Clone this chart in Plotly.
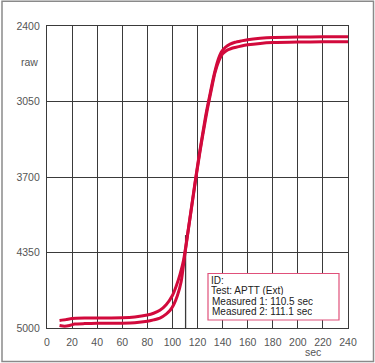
import plotly.graph_objects as go

# ---- data ----
x_run1 = [10, 15, 20, 30, 40, 50, 60, 70, 80, 85, 90, 95, 100, 103, 106, 109, 112, 115, 118, 121,
          124, 127, 130, 133, 136, 139, 142, 146, 150, 155, 160, 170, 180, 200, 220, 240]
y_run1 = [4935, 4928, 4918, 4914, 4913, 4913, 4912, 4905, 4888, 4873, 4848, 4800, 4720, 4640, 4540,
          4410, 4200, 3975, 3750, 3535, 3335, 3145, 2985, 2830, 2705, 2625, 2585, 2556, 2540, 2528,
          2518, 2506, 2499, 2495, 2493, 2492]

x_run2 = [10, 14, 18, 22, 30, 40, 50, 60, 70, 80, 85, 90, 95, 98, 101, 104, 107, 110, 113, 116,
          119, 122, 125, 128, 131, 134, 137, 140, 143, 147, 150, 155, 160, 170, 180, 200, 220, 240]
y_run2 = [4978, 4984, 4978, 4966, 4962, 4960, 4960, 4959, 4955, 4942, 4930, 4915, 4880, 4850, 4800,
          4720, 4600, 4360, 4130, 3910, 3690, 3480, 3290, 3110, 2950, 2800, 2700, 2640, 2612, 2594,
          2585, 2572, 2562, 2550, 2543, 2538, 2536, 2535]

x_ticks = [0, 20, 40, 60, 80, 100, 120, 140, 160, 180, 200, 220, 240]
y_ticks = [2400, 3050, 3700, 4350, 5000]
marker_time = 110.5
info_lines = ["ID:", "Test: APTT (Ext)", "Measured 1: 110.5 sec", "Measured 2: 111.1 sec"]

RED = "#d20a3c"
GRID = "#3a3a3a"
FONT = "Liberation Sans, Arial, sans-serif"

W, H = 375, 363
L, R, T, B = 47, 27, 26, 35
pw, ph = W - L - R, H - T - B


def px(xp):
    return (xp - L) / pw


def py(yp):
    return (H - B - yp) / ph


fig = go.Figure()
for xs, ys in [(x_run1, y_run1), (x_run2, y_run2)]:
    fig.add_trace(go.Scatter(x=xs, y=ys, mode="lines",
                             line=dict(color=RED, width=3, shape="spline", smoothing=0.6),
                             showlegend=False, hoverinfo="skip"))

fig.update_layout(
    width=W, height=H,
    margin=dict(l=L, r=R, t=T, b=B, pad=0),
    paper_bgcolor="white", plot_bgcolor="white",
    font=dict(family=FONT, size=10.5, color="#555555"),
    xaxis=dict(range=[0, 240], tickvals=x_ticks, ticktext=[str(v) for v in x_ticks],
               showgrid=True, gridcolor=GRID, gridwidth=1.3, zeroline=False,
               showline=True, linecolor=GRID, linewidth=1.3, mirror=True,
               ticks="outside", ticklen=4, tickcolor="rgba(0,0,0,0)",
               tickfont=dict(size=10.5, color="#555555")),
    yaxis=dict(range=[5000, 2400], tickvals=y_ticks, ticktext=[str(v) for v in y_ticks],
               showgrid=True, gridcolor=GRID, gridwidth=1.3, zeroline=False,
               showline=True, linecolor=GRID, linewidth=1.3, mirror=True,
               ticks="outside", ticklen=4, tickcolor="rgba(0,0,0,0)",
               tickfont=dict(size=10.5, color="#555555")),
)

# measurement marker
fig.add_shape(type="line", xref="x", yref="y", x0=marker_time, x1=marker_time, y0=4200, y1=5000,
              line=dict(color=GRID, width=1.3), layer="below")

# outer frame
fig.add_shape(type="rect", xref="paper", yref="paper",
              x0=px(2), x1=px(373.5), y0=py(361.5), y1=py(1.2),
              line=dict(color="#8a8a8a", width=1.5), fillcolor="rgba(0,0,0,0)")

# info box
fig.add_shape(type="rect", xref="paper", yref="paper",
              x0=px(208), x1=px(339), y0=py(320), y1=py(273.5),
              line=dict(color="#e0507a", width=1.2), fillcolor="white", layer="above")
for i, line in enumerate(info_lines):
    fig.add_annotation(xref="paper", yref="paper", x=px(210.5), y=py(279.5 + 10.5 * i),
                       xanchor="left", yanchor="middle", align="left", showarrow=False,
                       borderpad=0, height=10,
                       text=line, font=dict(family=FONT, size=10, color="#222222"))

# axis titles
fig.add_annotation(xref="paper", yref="paper", x=px(40), y=py(62), xanchor="right", yanchor="middle",
                   showarrow=False, text="raw", font=dict(size=10.5, color="#555555"))
fig.add_annotation(xref="paper", yref="paper", x=px(313), y=py(352), xanchor="center", yanchor="middle",
                   showarrow=False, text="sec", font=dict(size=10.5, color="#555555"))

fig.write_html("out.html", config={"displayModeBar": False},
               post_script="document.body.style.margin='0px';")
